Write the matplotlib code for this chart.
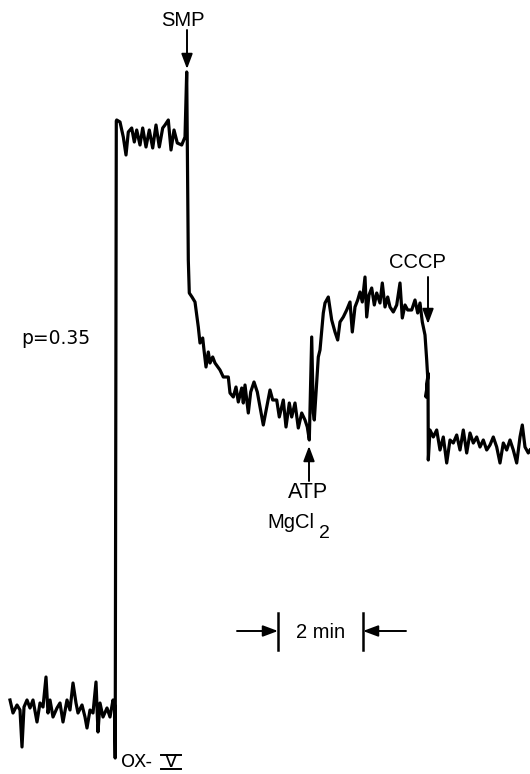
import matplotlib
matplotlib.use("Agg")
import matplotlib.pyplot as plt

plt.rcParams['font.family'] = ['DejaVu Sans']
LAB = ['Liberation Sans', 'DejaVu Sans']

# Recorder trace (chart units: time along x, pen deflection along y, 84 units = 2 min)
t = [10, 13, 17, 20, 22, 24, 27, 30, 33, 37, 40, 43, 46, 48, 50, 53, 57, 60, 63, 67,
     70, 73, 76, 78, 82, 85, 87, 90, 93, 96, 98, 100, 103, 107, 110, 113, 114.5,
     115.2, 116.3,
     116.7, 120, 123.3, 126, 128.3, 131.7, 134.3, 136.7, 140, 142.7, 146, 149.3, 152.7,
     156, 159.3, 162.7, 165, 168.3, 171, 174, 177.3, 181.7, 185, 186.7,
     188.3, 189.3, 192, 195, 198.3, 200, 202.7, 204, 206, 208.3, 210, 212.7, 215, 220,
     223.3, 228.3, 230, 233.3, 236, 238.3, 241.7, 243.3, 245, 248.3, 250.7, 254, 257.3,
     260, 263.3, 266.7, 270, 272.7, 276.7, 279.3, 283.3, 286, 289.3, 291.7, 295, 298.3,
     301.7, 305, 307.3, 309.3,
     311.7, 313.3, 314.3, 316.7, 318.3, 320, 323.3, 325, 328.3, 331.7, 335, 337.7, 340,
     343.3, 346.7, 350, 352.3, 355, 357.7, 360, 362.3, 365, 366.7, 369, 371.7, 374.3,
     376.7, 380, 382.3, 385, 387.7, 390, 393.3, 396.7, 400, 402.3, 405, 407.7, 411.7,
     415, 417.7, 420, 422.3, 425, 426.7, 427.7, 426, 428, 428.3,
     430, 433.3, 436.7, 440, 443.3, 446.7, 450, 453.3, 456.7, 460, 463.3, 466.7, 470,
     473.3, 476.7, 480, 483.3, 486.7, 490, 493.3, 496.7, 500, 503.3, 506.7, 510, 513.3,
     516.7, 520, 522.3, 525, 528.3, 530]
deflection = [700, 713, 705, 710, 747, 707, 700, 708, 700, 722, 703, 707, 677, 713, 700,
              717, 708, 703, 722, 700, 710, 683, 703, 713, 705, 717, 728, 710, 713, 682,
              732, 703, 717, 708, 717, 700, 705,
              758, 121,
              120, 122, 137, 155, 132, 128, 142, 130, 145, 128, 147, 130, 148,
              125, 147, 128, 125, 120, 150, 130, 143, 145, 137, 72,
              260, 293, 297, 302, 327, 343, 338, 350, 367, 352, 363, 357, 363, 370,
              377, 377, 393, 397, 387, 402, 388, 403, 385, 413, 392, 382, 392,
              407, 425, 407, 390, 400, 400, 417, 400, 427, 403, 417, 403, 428,
              413, 420, 427, 440,
              337, 413, 420, 383, 357, 350, 313, 303, 297, 320, 332, 340, 322,
              317, 310, 302, 332, 307, 300, 292, 302, 277, 317, 295, 288, 305,
              293, 303, 283, 307, 297, 307, 312, 305, 283, 318, 305, 310, 310,
              300, 313, 303, 322, 335, 360, 377, 397, 373, 460,
              430, 437, 430, 450, 437, 463, 440, 443, 435, 450, 430, 453, 433,
              443, 437, 447, 440, 450, 445, 437, 447, 463, 443, 450, 440, 450,
              463, 437, 425, 447, 453, 450]

fig = plt.figure(figsize=(5.30, 7.74), dpi=100)
ax = fig.add_axes([0, 0, 1, 1])
ax.set_xlim(0, 530)
ax.set_ylim(774, 0)
ax.axis('off')

ax.plot(t, deflection, color='black', lw=2.3, solid_joinstyle='round')

arrow = dict(arrowstyle='-|>,head_length=0.75,head_width=0.28', color='black', lw=1.4,
             mutation_scale=12, shrinkA=0, shrinkB=0)
fs = 14.5

ax.annotate('', xy=(187, 69), xytext=(187, 30), arrowprops=arrow)
ax.text(183, 20, 'SMP', fontsize=fs, family=LAB, ha='center', va='center')

ax.annotate('', xy=(428, 324), xytext=(428, 277), arrowprops=arrow)
ax.text(417, 263, 'CCCP', fontsize=fs, family=LAB, ha='center', va='center')

ax.annotate('', xy=(309, 446), xytext=(309, 481), arrowprops=arrow)
ax.text(308, 492, 'ATP', fontsize=15.5, family=LAB, ha='center', va='center')
ax.text(267, 523, 'MgCl', fontsize=fs, family=LAB, ha='left', va='center')
ax.text(319, 533, '2', fontsize=14, family=LAB, ha='left', va='center')

ax.text(21, 339, 'p=0.35', fontsize=13.5, ha='left', va='center')

# 2 min scale bar
ax.plot([278, 278], [613, 650], color='black', lw=1.8)
ax.plot([363, 363], [613, 650], color='black', lw=1.8)
ax.annotate('', xy=(278, 631), xytext=(237, 631), arrowprops=arrow)
ax.annotate('', xy=(363, 631), xytext=(406, 631), arrowprops=arrow)
ax.text(321, 633, '2 min', fontsize=fs, family=LAB, ha='center', va='center')

ax.text(121, 762, 'OX-', fontsize=13, ha='left', va='center')
ax.text(171, 762, 'V', fontsize=13, ha='center', va='center')
ax.plot([161, 181], [754.5, 754.5], color='black', lw=1.4)
ax.plot([161, 181], [768.5, 768.5], color='black', lw=1.4)

fig.savefig('out.png', dpi=100)
